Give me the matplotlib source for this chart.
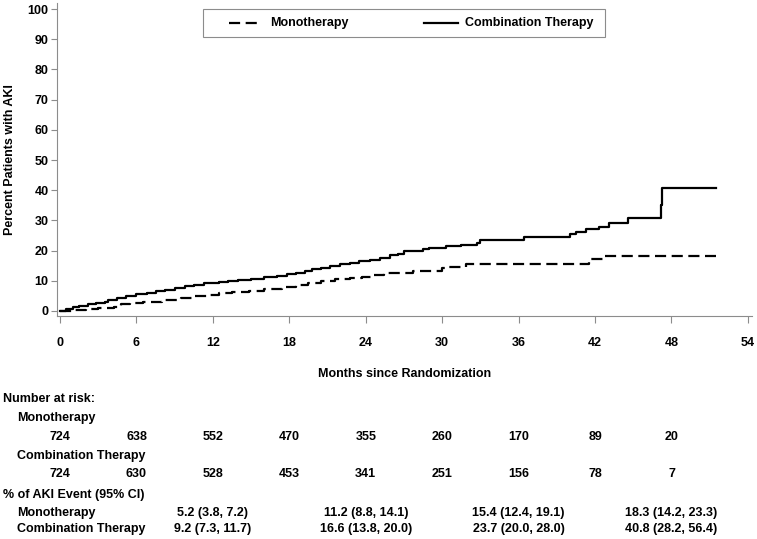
import matplotlib
matplotlib.use("Agg")
import matplotlib.pyplot as plt
import matplotlib.transforms as mtransforms
from matplotlib.lines import Line2D
from matplotlib.patches import Rectangle

# cumulative incidence of AKI (percent), step curves
combo_t = [0, 0.5, 1.0, 1.5, 2.2, 2.8, 3.5, 3.8, 4.5, 5.2, 6.0, 6.8, 7.5, 8.2, 9.0,
           9.8, 10.5, 11.3, 12.5, 13.2, 14.0, 15.0, 16.0, 17.0, 17.8, 18.5, 19.2,
           19.8, 20.5, 21.2, 22.0, 22.8, 23.5, 24.3, 25.1, 25.9, 26.5, 27.0, 28.5,
           29.0, 30.3, 31.5, 32.7, 33.0, 36.4, 40.0, 40.5, 41.3, 42.3, 43.1, 44.6,
           47.15, 47.25, 51.5]
combo_p = [0, 0.5, 1.2, 1.8, 2.4, 2.7, 3.0, 3.8, 4.4, 4.9, 5.5, 6.0, 6.5, 7.0, 7.6,
           8.2, 8.7, 9.2, 9.5, 9.9, 10.3, 10.7, 11.1, 11.6, 12.2, 12.7, 13.4,
           14.0, 14.4, 15.0, 15.5, 16.0, 16.6, 17.0, 17.6, 18.4, 19.0, 19.8, 20.5,
           20.8, 21.4, 21.9, 22.4, 23.5, 24.5, 25.4, 26.2, 27.0, 27.9, 29.2, 30.7,
           35.0, 40.8, 40.8]

mono_t = [0, 1.0, 2.0, 3.0, 4.2, 4.8, 5.5, 6.5, 8.0, 9.5, 10.5, 11.5, 12.5, 13.5,
          14.8, 16.0, 17.4, 18.5, 19.5, 20.5, 21.6, 22.8, 23.7, 24.5, 25.4, 27.7,
          30.0, 30.5, 31.9, 41.5, 42.6, 51.5]
mono_p = [0, 0.4, 0.7, 0.9, 1.2, 2.3, 2.7, 3.1, 3.6, 4.2, 4.8, 5.2, 5.8, 6.2,
          6.7, 7.2, 8.0, 8.6, 9.3, 9.9, 10.5, 11.0, 11.2, 12.0, 12.7, 13.4,
          14.2, 14.7, 15.4, 17.2, 18.3, 18.3]

risk_months = [0, 6, 12, 18, 24, 30, 36, 42, 48]
risk_mono = [724, 638, 552, 470, 355, 260, 170, 89, 20]
risk_combo = [724, 630, 528, 453, 341, 251, 156, 78, 7]

ci_months = [12, 24, 36, 48]
ci_mono = ["5.2 (3.8, 7.2)", "11.2 (8.8, 14.1)", "15.4 (12.4, 19.1)", "18.3 (14.2, 23.3)"]
ci_combo = ["9.2 (7.3, 11.7)", "16.6 (13.8, 20.0)", "23.7 (20.0, 28.0)", "40.8 (28.2, 56.4)"]

plt.rcParams["font.family"] = ["Liberation Sans", "DejaVu Sans"]
plt.rcParams["font.weight"] = "bold"
plt.rcParams["axes.labelweight"] = "bold"
plt.rcParams["font.size"] = 9

W, H = 757, 539
fig = plt.figure(figsize=(W / 100, H / 100), dpi=100)


def fx(x):
    return x / W


def fy(y):
    return 1 - y / H


ax = fig.add_axes([fx(57), fy(316), 695 / W, 313 / H])
grey = "#8c8c8c"

ax.step(mono_t, mono_p, where="post", color="black", lw=1.6,
        linestyle=(0, (5, 2.5)))
ax.step(combo_t, combo_p, where="post", color="black", lw=1.6)

ax.set_xlim(-0.24, 54.32)
ax.set_ylim(-1.66, 102)
ax.set_xticks(range(0, 55, 6))
ax.set_yticks(range(0, 101, 10))
for s in ["top", "right"]:
    ax.spines[s].set_visible(False)
for s in ["left", "bottom"]:
    ax.spines[s].set_color(grey)
    ax.spines[s].set_linewidth(0.8)
ax.tick_params(axis="x", colors=grey, labelcolor="black", length=5, width=0.8, pad=10)
ax.tick_params(axis="y", colors=grey, labelcolor="black", length=4, width=0.8, pad=2)

ax.set_xlabel("Months since Randomization", labelpad=14)
fig.text(fx(10), fy(160), "Percent Patients with AKI", rotation=90,
         ha="center", va="center")

# legend box drawn by hand to match the layout
fig.patches.append(Rectangle((fx(203), fy(37)), 402 / W, 28 / H,
                             transform=fig.transFigure, fill=False,
                             edgecolor=grey, lw=0.8))
fig.lines.append(Line2D([fx(229), fx(258)], [fy(23), fy(23)], transform=fig.transFigure,
                        color="black", lw=1.6, linestyle=(0, (5, 2.5))))
fig.text(fx(270), fy(23), "Monotherapy", va="center")
fig.lines.append(Line2D([fx(424), fx(458)], [fy(23), fy(23)], transform=fig.transFigure,
                        color="black", lw=1.6))
fig.text(fx(465), fy(23), "Combination Therapy", va="center")

# number at risk table
trans = mtransforms.blended_transform_factory(ax.transData, fig.transFigure)
fig.text(fx(3), fy(399), "Number at risk:", va="center")
fig.text(fx(17), fy(418), "Monotherapy", va="center")
for m, n in zip(risk_months, risk_mono):
    fig.text(m, fy(437), str(n), transform=trans, ha="center", va="center")
fig.text(fx(17), fy(456), "Combination Therapy", va="center")
for m, n in zip(risk_months, risk_combo):
    fig.text(m, fy(474), str(n), transform=trans, ha="center", va="center")

fig.text(fx(3), fy(495), "% of AKI Event (95% CI)", va="center")
fig.text(fx(17), fy(513), "Monotherapy", va="center")
fig.text(fx(17), fy(529), "Combination Therapy", va="center")
for m, s1, s2 in zip(ci_months, ci_mono, ci_combo):
    fig.text(m, fy(513), s1, transform=trans, ha="center", va="center")
    fig.text(m, fy(529), s2, transform=trans, ha="center", va="center")

fig.savefig("out.png", dpi=100)
